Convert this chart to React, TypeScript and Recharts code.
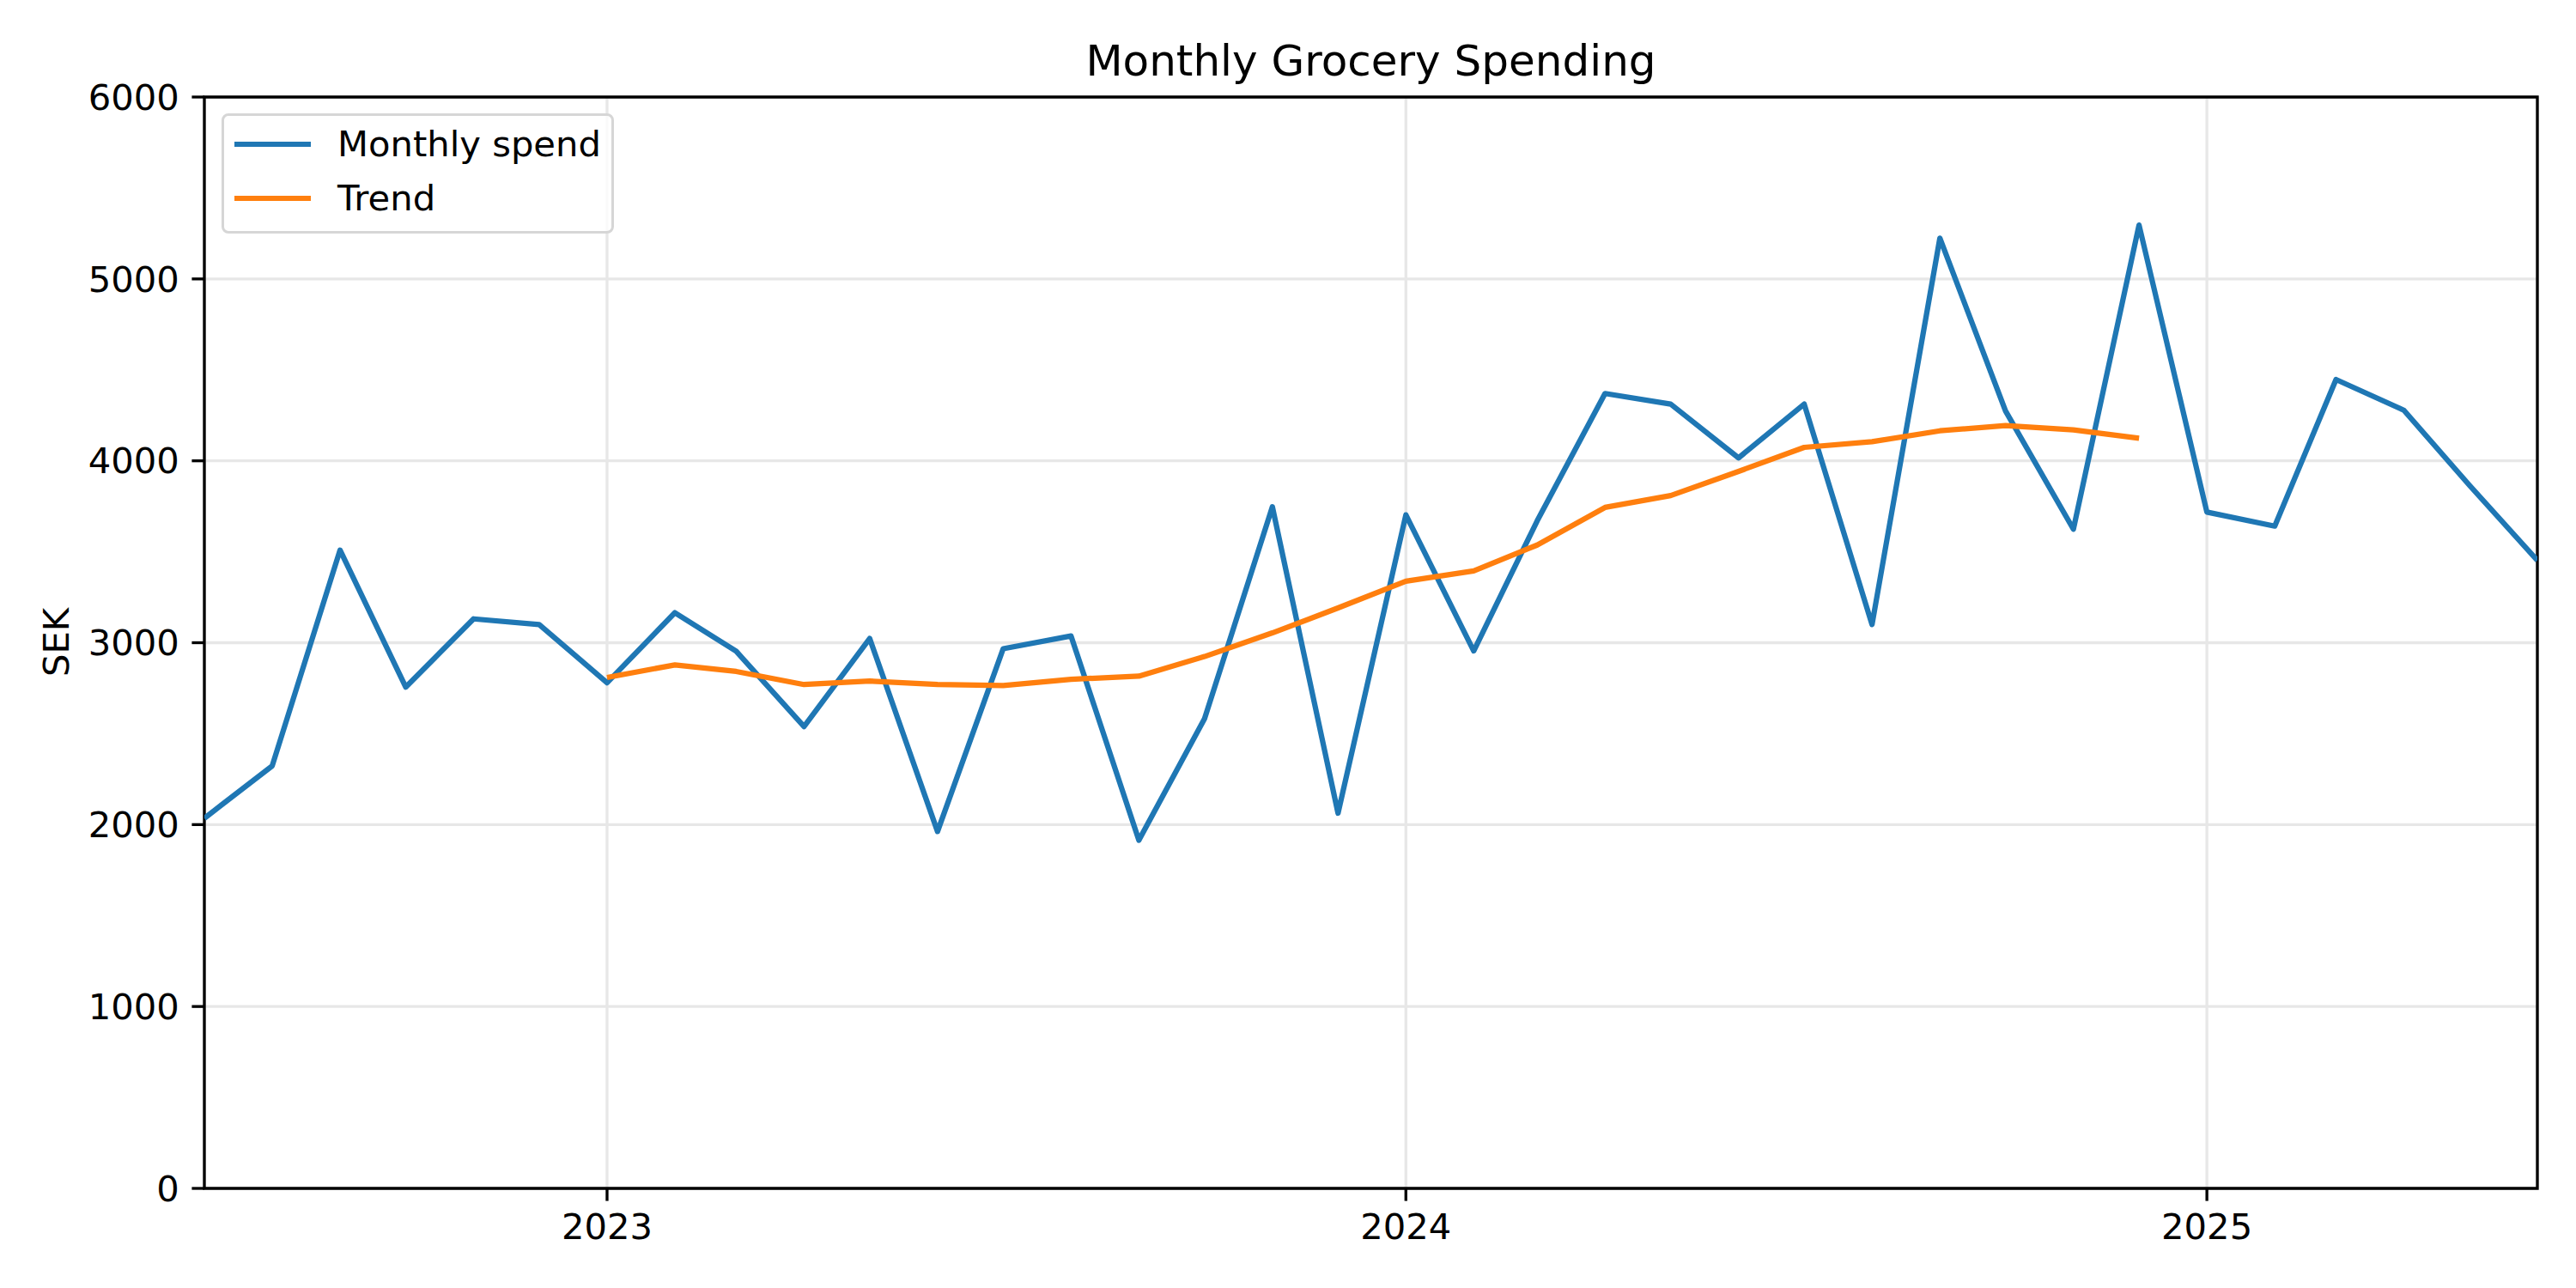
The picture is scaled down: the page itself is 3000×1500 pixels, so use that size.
import { LineChart, Line, XAxis, YAxis, CartesianGrid, Legend, ReferenceArea } from "recharts";

const months = [
  "2022-07", "2022-08", "2022-09", "2022-10", "2022-11", "2022-12",
  "2023-01", "2023-02", "2023-03", "2023-04", "2023-05", "2023-06",
  "2023-07", "2023-08", "2023-09", "2023-10", "2023-11", "2023-12",
  "2024-01", "2024-02", "2024-03", "2024-04", "2024-05", "2024-06",
  "2024-07", "2024-08", "2024-09", "2024-10", "2024-11", "2024-12",
  "2025-01", "2025-02", "2025-03", "2025-04", "2025-05", "2025-06",
];

const spend = [
  2035, 2323, 3509, 2756, 3131, 3100,
  2780, 3165, 2953, 2539, 3023, 1962,
  2967, 3037, 1914, 2582, 3747, 2063,
  3703, 2955, 3670, 4370, 4312, 4016,
  4312, 3100, 5224, 4274, 3624, 5296,
  3718, 3641, 4447, 4278, 3865, 3453,
];

// rolling trend, only defined 2023-01 .. 2024-12
const trend = [
  null, null, null, null, null, null,
  2809, 2878, 2842, 2770, 2789, 2770,
  2765, 2799, 2816, 2924, 3054, 3191,
  3338, 3395, 3537, 3744, 3809, 3942,
  4074, 4105, 4165, 4194, 4170, 4124,
  null, null, null, null, null, null,
];

const yTicks = [0, 1000, 2000, 3000, 4000, 5000, 6000];
const yearTicks = ["2023-01", "2024-01", "2025-01"];

const toTime = (m: string) => {
  const [y, mo] = m.split("-").map(Number);
  return Date.UTC(y, mo - 1, 1);
};

const data = months.map((m, i) => ({ t: toTime(m), spend: spend[i], trend: trend[i] }));
const xMin = data[0].t;
const xMax = data[data.length - 1].t;

const FONT = "'DejaVu Sans', sans-serif";
const TICK_FONT = 41.7;
const LW = 3.33;

function LegendBox({ payload }: any) {
  return (
    <div
      style={{
        width: 457,
        height: 140,
        boxSizing: "border-box",
        border: "3.3px solid #d6d6d6",
        borderRadius: 8,
        background: "rgba(255,255,255,0.8)",
        position: "relative",
        fontFamily: FONT,
        fontSize: TICK_FONT,
      }}
    >
      {(payload || []).map((p: any, i: number) => (
        <div
          key={i}
          style={{
            position: "absolute",
            left: 12,
            top: 33 + i * 63 - 25,
            height: 50,
            display: "flex",
            alignItems: "center",
            whiteSpace: "nowrap",
          }}
        >
          <div style={{ width: 89, height: 6.25, background: p.color }} />
          <span style={{ marginLeft: 31, color: "#000", lineHeight: 1 }}>{p.value}</span>
        </div>
      ))}
    </div>
  );
}

export default function App() {
  return (
    <div style={{ position: "relative", width: 3000, height: 1500, background: "#fff" }}>
      <style>{"body{margin:0}"}</style>
      <div
        style={{
          position: "absolute",
          left: 0,
          width: 3193,
          top: 45.7,
          textAlign: "center",
          fontFamily: FONT,
          fontSize: 50,
          lineHeight: 1,
          color: "#000",
          zIndex: 2,
        }}
      >
        Monthly Grocery Spending
      </div>
      <div
        style={{
          position: "absolute",
          left: 65,
          top: 748,
          transform: "translate(-50%, -50%) rotate(-90deg)",
          fontFamily: FONT,
          fontSize: TICK_FONT,
          color: "#000",
          whiteSpace: "nowrap",
          zIndex: 2,
        }}
      >
        SEK
      </div>
      <LineChart
        width={3000}
        height={1500}
        data={data}
        margin={{ top: 113, right: 45, left: 0, bottom: 0 }}
      >
        <CartesianGrid stroke="#e7e7e7" strokeWidth={LW} />
        <XAxis
          dataKey="t"
          type="number"
          domain={[xMin, xMax]}
          ticks={yearTicks.map(toTime)}
          tickFormatter={(v: number) => String(new Date(v).getUTCFullYear())}
          height={116}
          tickSize={14.6}
          tickMargin={14.6}
          tick={{ fill: "#000", fontSize: TICK_FONT, fontFamily: FONT }}
          tickLine={{ stroke: "#000", strokeWidth: LW }}
          axisLine={false}
          allowDataOverflow
        />
        <YAxis
          domain={[0, 6000]}
          ticks={yTicks}
          interval={0}
          width={238}
          tickSize={14.6}
          tickMargin={14.6}
          tick={{ fill: "#000", fontSize: TICK_FONT, fontFamily: FONT }}
          tickLine={{ stroke: "#000", strokeWidth: LW }}
          axisLine={false}
          allowDataOverflow
        />
        <Legend
          layout="vertical"
          align="center"
          verticalAlign="middle"
          content={<LegendBox />}
          wrapperStyle={{ left: 258, top: 132, width: 457, height: 140 }}
        />
        <Line
          type="linear"
          dataKey="spend"
          name="Monthly spend"
          stroke="#1f77b4"
          strokeWidth={6.25}
          strokeLinejoin="round"
          dot={false}
          activeDot={false}
          isAnimationActive={false}
        />
        <Line
          type="linear"
          dataKey="trend"
          name="Trend"
          stroke="#ff7f0e"
          strokeWidth={6.25}
          strokeLinejoin="round"
          dot={false}
          activeDot={false}
          isAnimationActive={false}
        />
        <ReferenceArea
          x1={xMin}
          x2={xMax}
          y1={0}
          y2={6000}
          fill="none"
          stroke="#000"
          strokeWidth={LW}
          ifOverflow="visible"
        />
      </LineChart>
    </div>
  );
}
